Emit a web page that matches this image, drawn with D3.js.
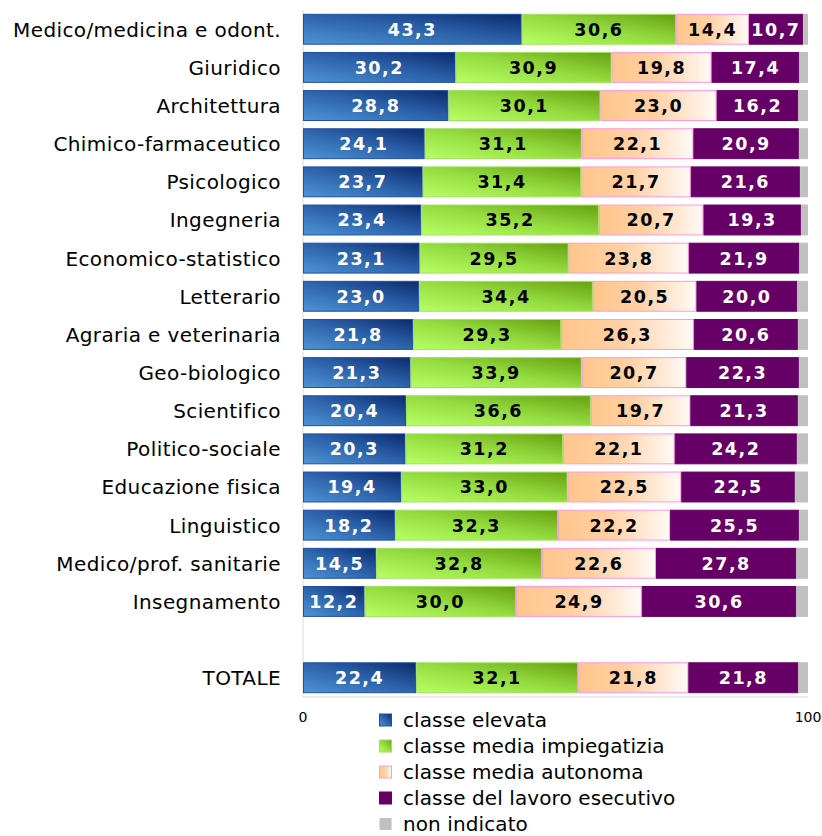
<!DOCTYPE html>
<html><head><meta charset="utf-8">
<script src="https://cdn.jsdelivr.net/npm/d3@7/dist/d3.min.js"></script>
<style>body{margin:0;background:#fff}svg{display:block}</style>
</head><body>
<script>
const categories = ["Medico/medicina e odont.","Giuridico","Architettura","Chimico-farmaceutico","Psicologico","Ingegneria","Economico-statistico","Letterario","Agraria e veterinaria","Geo-biologico","Scientifico","Politico-sociale","Educazione fisica","Linguistico","Medico/prof. sanitarie","Insegnamento","","TOTALE"];
const seriesNames = ["classe elevata","classe media impiegatizia","classe media autonoma","classe del lavoro esecutivo","non indicato"];
const elevata     = [43.3,30.2,28.8,24.1,23.7,23.4,23.1,23.0,21.8,21.3,20.4,20.3,19.4,18.2,14.5,12.2,null,22.4];
const impiegatizia= [30.6,30.9,30.1,31.1,31.4,35.2,29.5,34.4,29.3,33.9,36.6,31.2,33.0,32.3,32.8,30.0,null,32.1];
const autonoma    = [14.4,19.8,23.0,22.1,21.7,20.7,23.8,20.5,26.3,20.7,19.7,22.1,22.5,22.2,22.6,24.9,null,21.8];
const esecutivo   = [10.7,17.4,16.2,20.9,21.6,19.3,21.9,20.0,20.6,22.3,21.3,24.2,22.5,25.5,27.8,30.6,null,21.8];
const nonIndicato = [1.0,1.7,1.9,1.8,1.6,1.4,1.7,2.1,2.0,1.8,2.0,2.2,2.6,1.8,2.3,2.3,null,1.9];
const xTicks = [0,100];

const W=822,H=836;
const svg=d3.select("body").append("svg").attr("width",W).attr("height",H);
const defs=svg.append("defs");
function lg(id,stops,x1,y1,x2,y2){const g=defs.append("linearGradient").attr("id",id).attr("x1",x1).attr("y1",y1).attr("x2",x2).attr("y2",y2);stops.forEach(s=>g.append("stop").attr("offset",s[0]).attr("stop-color",s[1]));}
lg("gBlue",[[0,"#4f94d6"],[0.55,"#2a5fa8"],[1,"#0c2a6c"]],"0","1","1","0");
lg("gGreen",[[0,"#b8ff66"],[0.5,"#95dc40"],[1,"#66a010"]],"0","1","1","0");
lg("gPeach",[[0,"#ffc68c"],[0.45,"#ffd0a4"],[1,"#fffaf6"]],"0","0","1","0");

const fills=["url(#gBlue)","url(#gGreen)","url(#gPeach)","#660066","#c0c0c0"];
const strokes=["#1f4fa8","#a0e060","#ff99dd","#660066","#c0c0c0"];
const labelColors=["#fff","#000","#000","#fff",null];
const FONT="DejaVu Sans, sans-serif";

const x=d3.scaleLinear().domain([0,100]).range([303,808]);
const y=d3.scaleBand().domain(d3.range(categories.length)).range([10,697]).paddingInner(0.19).paddingOuter(0.1);

const rows=categories.map((c,i)=>({i,c,vals:[elevata[i],impiegatizia[i],autonoma[i],esecutivo[i],nonIndicato[i]]}));
const stackData=rows.filter(r=>r.vals[0]!=null).map(r=>{const o={i:r.i};r.vals.forEach((v,k)=>o["s"+k]=v);return o;});
const stack=d3.stack().keys(["s0","s1","s2","s3","s4"])(stackData);

svg.append("line").attr("x1",x(0)).attr("x2",x(0)).attr("y1",10).attr("y2",697).attr("stroke","#d9d9d9").attr("stroke-width",1);
svg.append("line").attr("x1",x(0)).attr("x2",x(100)).attr("y1",697).attr("y2",697).attr("stroke","#d9d9d9").attr("stroke-width",1);

stack.forEach((layer,k)=>{
  const g=svg.append("g");
  g.selectAll("rect").data(layer).join("rect")
   .attr("x",d=>x(d[0])+0.5).attr("y",d=>y(d.data.i)+0.5)
   .attr("width",d=>Math.max(0,x(d[1])-x(d[0])-1)).attr("height",y.bandwidth()-1)
   .attr("fill",fills[k]).attr("stroke",strokes[k]).attr("stroke-width",1);
  if(labelColors[k]){
    g.selectAll("text").data(layer).join("text")
     .attr("x",d=>(x(d[0])+x(d[1]))/2).attr("y",d=>y(d.data.i)+y.bandwidth()/2)
     .attr("dy","0.37em").attr("text-anchor","middle")
     .attr("font-family",FONT).attr("font-weight","bold").attr("font-size",17.5)
     .attr("letter-spacing","1.5px")
     .attr("fill",labelColors[k])
     .text(d=>(d[1]-d[0]).toFixed(1).replace(".",","));
  }
});

svg.append("g").selectAll("text").data(rows).join("text")
 .attr("x",281).attr("y",d=>y(d.i)+y.bandwidth()/2).attr("dy","0.37em")
 .attr("text-anchor","end").attr("font-family",FONT).attr("font-size",20).attr("letter-spacing","0.4px").attr("fill","#000")
 .text(d=>d.c);

svg.append("g").selectAll("text").data(xTicks).join("text")
 .attr("x",d=>x(d)).attr("y",722).attr("text-anchor","middle")
 .attr("font-family",FONT).attr("font-size",14).attr("fill","#000").text(d=>d);

const lgG=svg.append("g");
seriesNames.forEach((n,k)=>{
  const yy=720+k*26;
  lgG.append("rect").attr("x",379.5).attr("y",yy-6).attr("width",12).attr("height",12)
   .attr("fill",fills[k]).attr("stroke",k===4?"none":strokes[k]);
  lgG.append("text").attr("x",403).attr("y",yy).attr("dy","0.37em")
   .attr("font-family",FONT).attr("font-size",20).attr("letter-spacing","0.1px").attr("fill","#000").text(n);
});
</script>
</body></html>
